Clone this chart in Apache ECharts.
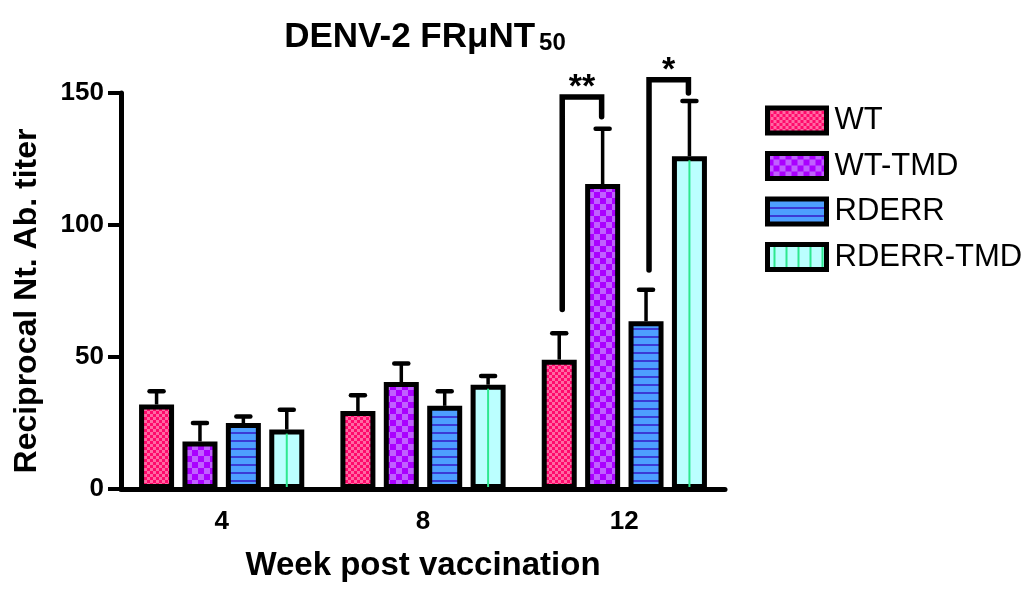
<!DOCTYPE html>
<html>
<head>
<meta charset="utf-8">
<script src="https://cdn.jsdelivr.net/npm/echarts@6/dist/echarts.min.js"></script>
<style>
html,body{margin:0;padding:0;background:#fff;}
#chart{width:1031px;height:590px;}
</style>
</head>
<body>
<div id="chart"></div>
<script>
// ---------------- data ----------------
const CATEGORIES = ['4', '8', '12'];
const SERIES_NAMES = ['WT', 'WT-TMD', 'RDERR', 'RDERR-TMD'];
const WT_MEAN        = [32, 29.5, 49];
const WT_TMD_MEAN    = [18, 40.5, 115.5];
const RDERR_MEAN     = [25, 31.5, 63.5];
const RDERR_TMD_MEAN = [22.5, 39.5, 126];
const WT_ERR         = [5, 6, 10];
const WT_TMD_ERR     = [7, 7, 21];
const RDERR_ERR      = [2.5, 5.5, 12];
const RDERR_TMD_ERR  = [7.5, 3.3, 21];
const Y_TICKS = [0, 50, 100, 150];
// significance brackets: [category index, left series, right series, left foot, top, right foot]
const BRACKETS = [
  [2, 0, 1, 68, 148.5, 141],
  [2, 2, 3, 83, 155, 150]
];
const BRACKET_LABELS = ['**', '*'];

const MEANS = [WT_MEAN, WT_TMD_MEAN, RDERR_MEAN, RDERR_TMD_MEAN];
const ERRS = [WT_ERR, WT_TMD_ERR, RDERR_ERR, RDERR_TMD_ERR];

// ---------------- styling helpers ----------------
const FONT = "'Liberation Sans', Arial, Helvetica, sans-serif";
const BAR_W = 35;
const BAR_STEP = 43.4;

function checker(cell, c1, c2) {
  const cv = document.createElement('canvas');
  cv.width = cell * 2; cv.height = cell * 2;
  const g = cv.getContext('2d');
  g.fillStyle = c1; g.fillRect(0, 0, cell * 2, cell * 2);
  g.fillStyle = c2; g.fillRect(0, 0, cell, cell); g.fillRect(cell, cell, cell, cell);
  return { image: cv, repeat: 'repeat' };
}
function hlines(period, thick, base, line) {
  const cv = document.createElement('canvas');
  cv.width = 8; cv.height = period;
  const g = cv.getContext('2d');
  g.fillStyle = base; g.fillRect(0, 0, 8, period);
  g.fillStyle = line; g.fillRect(0, 0, 8, thick);
  return { image: cv, repeat: 'repeat' };
}
function vlines(period, thick, base, line) {
  const cv = document.createElement('canvas');
  cv.width = period; cv.height = 8;
  const g = cv.getContext('2d');
  g.fillStyle = base; g.fillRect(0, 0, period, 8);
  g.fillStyle = line; g.fillRect(Math.floor(period / 2), 0, thick, 8);
  return { image: cv, repeat: 'repeat' };
}

const FILLS = [
  checker(3, '#ff0a6c', '#ff6aa3'),
  checker(6, '#aa00ff', '#c060ff'),
  hlines(8, 2, '#4d9fff', '#3b3bd6'),
  '#bbffff'
];
const LEGEND_FILLS = [FILLS[0], FILLS[1], FILLS[2], vlines(12.6, 2, '#bbffff', '#2de88f')];

const chart = echarts.init(document.getElementById('chart'), null, { renderer: 'canvas' });

const barSeries = SERIES_NAMES.map((name, i) => ({
  name: name,
  type: 'bar',
  data: MEANS[i],
  barWidth: BAR_W,
  barGap: ((BAR_STEP - BAR_W) / BAR_W * 100) + '%',
  itemStyle: { color: FILLS[i], borderColor: '#000', borderWidth: 5 },
  z: 2
}));

const errSeries = SERIES_NAMES.map((name, i) => ({
  type: 'custom',
  z: 4,
  silent: true,
  clip: false,
  data: CATEGORIES.map((c, k) => [k, MEANS[i][k], ERRS[i][k]]),
  encode: { x: 0, y: [1] },
  renderItem: function (params, api) {
    const k = api.value(0);
    const v = api.value(1);
    const e = api.value(2);
    const cx = api.coord([k, 0])[0] + (i - 1.5) * BAR_STEP;
    const yBase = api.coord([k, 0])[1];
    const yTop = api.coord([k, v])[1];
    const yErr = api.coord([k, v + e])[1];
    const children = [];
    if (i === 3) {
      children.push({ type: 'line', shape: { x1: cx, y1: yBase - 2, x2: cx, y2: yTop + 4 },
        style: { stroke: '#2de88f', lineWidth: 2 } });
    }
    children.push({ type: 'line', shape: { x1: cx, y1: yTop, x2: cx, y2: yErr },
      style: { stroke: '#000', lineWidth: 3.5 } });
    children.push({ type: 'line', shape: { x1: cx - 7, y1: yErr, x2: cx + 7, y2: yErr },
      style: { stroke: '#000', lineWidth: 4.5, lineCap: 'round' } });
    return { type: 'group', children: children };
  }
}));

const bracketSeries = {
  type: 'custom',
  z: 5,
  silent: true,
  clip: false,
  data: BRACKETS,
  encode: { x: 0, y: [3, 4, 5] },
  renderItem: function (params, api) {
    const k = api.value(0);
    const l = api.value(1), r = api.value(2);
    const c = api.coord([k, 0])[0];
    const xl = c + (l - 1.5) * BAR_STEP + 3;
    const xr = c + (r - 1.5) * BAR_STEP - 1;
    const yl = api.coord([k, api.value(3)])[1];
    const yt = api.coord([k, api.value(4)])[1];
    const yr = api.coord([k, api.value(5)])[1];
    return {
      type: 'group',
      children: [
        { type: 'polyline', shape: { points: [[xl, yl], [xl, yt], [xr, yt], [xr, yr]] },
          style: { stroke: '#000', lineWidth: 5.5, fill: null, lineJoin: 'miter', lineCap: 'round' } },
        { type: 'text', x: (xl + xr) / 2, y: yt + 8,
          style: { text: BRACKET_LABELS[params.dataIndex], fill: '#000', font: 'bold 34px ' + FONT,
            align: 'center', verticalAlign: 'bottom' } }
      ]
    };
  }
};

const option = {
  animation: false,
  backgroundColor: '#fff',
  title: {
    text: '{a|DENV-2 FRμNT}{b|50}',
    left: 420,
    textAlign: 'center',
    top: 15,
    textStyle: {
      rich: {
        a: { fontFamily: FONT, fontWeight: 'bold', fontSize: 35, color: '#000' },
        b: { fontFamily: FONT, fontWeight: 'bold', fontSize: 24, color: '#000', verticalAlign: 'bottom', padding: [0, 0, 0, 4] }
      }
    }
  },
  legend: {
    orient: 'vertical',
    left: 765,
    top: 105,
    padding: 0,
    itemWidth: 59,
    itemHeight: 25,
    itemGap: 14.5,
    icon: 'rect',
    selectedMode: false,
    itemStyle: { borderColor: '#000', borderWidth: 5 },
    textStyle: { fontFamily: FONT, fontSize: 31, lineHeight: 31, color: '#000', padding: [0, 0, 0, 3] },
    data: SERIES_NAMES.map((n, i) => ({ name: n, itemStyle: { color: LEGEND_FILLS[i], borderColor: '#000', borderWidth: 5 } }))
  },
  grid: { left: 121, right: 306, top: 93, bottom: 101, containLabel: false },
  xAxis: {
    type: 'category',
    data: CATEGORIES,
    name: 'Week post vaccination',
    nameLocation: 'middle',
    nameGap: 60,
    nameTextStyle: { fontFamily: FONT, fontWeight: 'bold', fontSize: 33, color: '#000' },
    axisLine: { lineStyle: { color: '#000', width: 5 } },
    axisTick: { alignWithLabel: true, length: 9, lineStyle: { color: '#000', width: 4 } },
    axisLabel: { fontFamily: FONT, fontWeight: 'bold', fontSize: 26, color: '#000', margin: 20 },
    splitLine: { show: false }
  },
  yAxis: {
    type: 'value',
    min: Y_TICKS[0],
    max: Y_TICKS[Y_TICKS.length - 1],
    interval: Y_TICKS[1] - Y_TICKS[0],
    name: 'Reciprocal Nt. Ab. titer',
    nameLocation: 'middle',
    nameRotate: 90,
    nameGap: 78,
    nameTextStyle: { fontFamily: FONT, fontWeight: 'bold', fontSize: 32, color: '#000', padding: [0, 20, 0, 0] },
    axisLine: { show: true, lineStyle: { color: '#000', width: 5 } },
    axisTick: { show: true, length: 13, lineStyle: { color: '#000', width: 4 } },
    axisLabel: { fontFamily: FONT, fontWeight: 'bold', fontSize: 26, color: '#000', margin: 17 },
    splitLine: { show: false }
  },
  series: barSeries.concat(errSeries).concat([bracketSeries])
};

chart.setOption(option);
</script>
</body>
</html>
